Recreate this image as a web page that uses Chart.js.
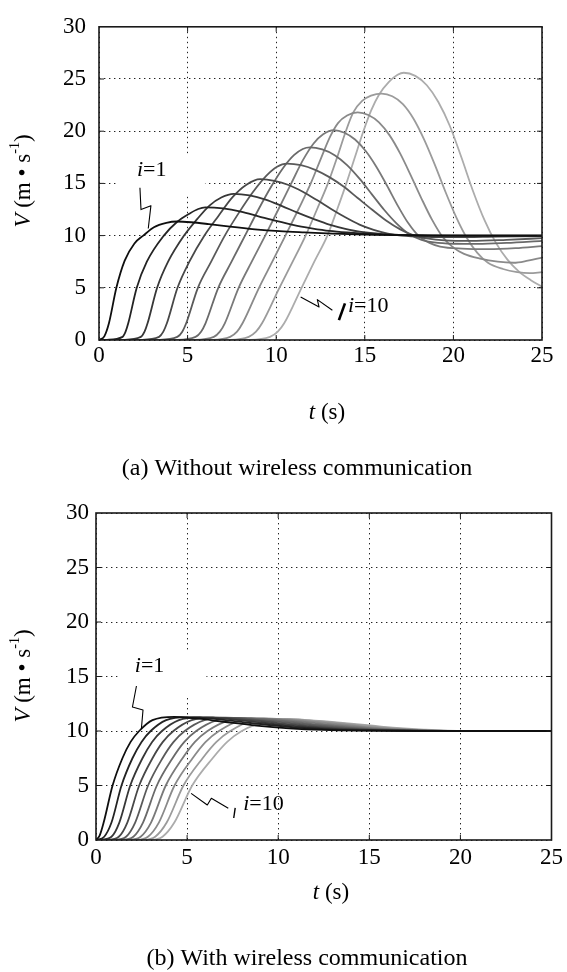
<!DOCTYPE html>
<html>
<head>
<meta charset="utf-8">
<script src="https://cdn.jsdelivr.net/npm/chart.js@4.4.0/dist/chart.umd.min.js"></script>
<style>
  html, body { margin: 0; padding: 0; background: #fff; }
  #wrap { position: relative; width: 567px; height: 972px; }
  canvas { position: absolute; left: 0; }
  #chartA { top: 0; }
  #chartB { top: 486px; }
</style>
</head>
<body>
<div id="wrap">
  <canvas id="chartA" width="567" height="486"></canvas>
  <canvas id="chartB" width="567" height="486"></canvas>
</div>
<script>
// tick labels
const xTicks = [0, 5, 10, 15, 20, 25];
const yTicks = [0, 5, 10, 15, 20, 25, 30];

// (a) without wireless communication, vehicle i = 1..10 (time s, speed m/s)
const aT1 = [0, 0.3, 0.56, 0.98, 1.45, 2.0, 2.5, 3.1, 3.8, 4.4, 5.2, 6.2, 7.4, 8.8, 10.2, 11.6, 13.2, 15.5, 18, 21, 25];
const aV1 = [0, 0.35, 1.6, 5, 7.6, 9.25, 10, 10.8, 11.22, 11.35, 11.28, 11.1, 10.85, 10.6, 10.42, 10.3, 10.18, 10.08, 10.02, 10, 10];
const aT2 = [0, 0.45, 1.33, 1.5, 1.65, 2.13, 2.7, 3.66, 4.4, 5.1, 5.6, 6.0, 7, 8, 9, 10, 11, 12, 13, 14, 15.5, 17.5, 20, 25];
const aV2 = [0, 0.02, 0.3, 0.8, 1.6, 5, 7.5, 10, 11.3, 12.1, 12.55, 12.7, 12.6, 12.3, 11.85, 11.4, 11.0, 10.7, 10.45, 10.3, 10.15, 10.05, 10, 10];
const aT3 = [0, 1.4, 2.36, 2.57, 2.74, 3.28, 3.9, 4.8, 5.5, 6.25, 6.9, 7.6, 8.5, 9.4, 10.3, 11.2, 12.1, 13.0, 13.9, 14.8, 16, 17.5, 19.5, 25];
const aV3 = [0, 0.02, 0.3, 0.8, 1.6, 5, 7.5, 10, 11.5, 12.9, 13.65, 14.0, 13.85, 13.45, 12.85, 12.2, 11.6, 11.05, 10.65, 10.35, 10.15, 10.05, 10, 10];
const aT4 = [0, 2.4, 3.39, 3.63, 3.83, 4.43, 5.1, 5.95, 6.75, 7.55, 8.3, 9.1, 9.9, 10.7, 11.5, 12.3, 13.1, 13.9, 14.7, 15.5, 16.3, 17.1, 18.5, 20, 22.5, 25];
const aV4 = [0, 0.02, 0.3, 0.8, 1.6, 5, 7.5, 10, 11.9, 13.7, 14.85, 15.4, 15.25, 14.85, 14.2, 13.4, 12.55, 11.75, 11.05, 10.55, 10.2, 10.0, 9.88, 9.85, 9.9, 9.95];
const aT5 = [0, 3.4, 4.42, 4.7, 4.92, 5.58, 6.33, 7.1, 7.9, 8.7, 9.45, 10.05, 10.6, 11.4, 12.2, 13.0, 13.8, 14.6, 15.4, 16.2, 17.0, 17.8, 18.6, 19.5, 21, 23, 25];
const aV5 = [0, 0.02, 0.3, 0.8, 1.6, 5, 7.5, 10, 12.2, 14.2, 15.75, 16.6, 16.9, 16.75, 16.3, 15.6, 14.7, 13.6, 12.5, 11.45, 10.6, 10.0, 9.7, 9.55, 9.5, 9.6, 9.75];
const aT6 = [0, 4.4, 5.45, 5.76, 6.01, 6.73, 7.48, 8.24, 9.0, 9.72, 10.4, 11.0, 11.5, 11.9, 12.6, 13.3, 14.0, 14.7, 15.4, 16.1, 16.8, 17.5, 18.2, 18.9, 20, 21.4, 23, 25];
const aV6 = [0, 0.02, 0.3, 0.8, 1.6, 5, 7.5, 10, 12.5, 14.7, 16.5, 17.7, 18.3, 18.45, 18.25, 17.7, 16.75, 15.45, 13.95, 12.45, 11.15, 10.15, 9.6, 9.35, 9.22, 9.2, 9.3, 9.5];
const aT7 = [0, 5.4, 6.48, 6.82, 7.1, 7.88, 8.62, 9.38, 10.12, 10.85, 11.5, 12.1, 12.65, 13.25, 13.85, 14.45, 15.05, 15.65, 16.25, 16.85, 17.45, 18.05, 18.65, 19.25, 20.5, 22, 23.5, 25];
const aV7 = [0, 0.02, 0.3, 0.8, 1.6, 5, 7.5, 10, 12.5, 15, 17.2, 18.8, 19.7, 20.1, 19.85, 19.2, 18.1, 16.6, 14.8, 12.9, 11.2, 9.95, 9.3, 8.95, 8.75, 8.7, 8.8, 9.0];
const aT8 = [0, 6.4, 7.4, 7.79, 8.1, 9.03, 9.78, 10.52, 11.25, 11.95, 12.55, 13.05, 13.5, 14.0, 14.6, 15.2, 15.8, 16.4, 17.0, 17.6, 18.2, 18.8, 19.4, 20.0, 20.6, 21.5, 22.5, 23.4, 24.2, 25];
const aV8 = [0, 0.02, 0.3, 0.8, 1.6, 5, 7.5, 10, 12.5, 15, 17.5, 19.5, 20.8, 21.5, 21.8, 21.55, 20.85, 19.6, 17.85, 15.75, 13.55, 11.5, 9.85, 8.85, 8.25, 7.8, 7.5, 7.4, 7.6, 7.9];
const aT9 = [0, 7.4, 8.45, 8.86, 9.2, 10.18, 10.93, 11.66, 12.3, 12.92, 13.44, 13.93, 14.35, 14.85, 15.35, 15.95, 16.55, 17.15, 17.75, 18.35, 18.95, 19.55, 20.15, 20.75, 21.35, 21.95, 22.8, 23.6, 24.3, 25];
const aV9 = [0, 0.02, 0.3, 0.8, 1.6, 5, 7.5, 10, 12.5, 15, 17.5, 20, 21.8, 22.9, 23.4, 23.6, 23.35, 22.6, 21.2, 19.2, 16.8, 14.2, 11.8, 9.8, 8.35, 7.4, 6.8, 6.5, 6.4, 6.5];
const aT10 = [0, 8.5, 9.65, 10.09, 10.45, 11.43, 12.15, 12.89, 13.44, 13.96, 14.44, 14.92, 15.36, 15.8, 16.35, 16.85, 17.2, 17.85, 18.5, 19.15, 19.8, 20.45, 21.1, 21.75, 22.4, 23.05, 23.7, 24.35, 25];
const aV10 = [0, 0.02, 0.3, 0.8, 1.6, 5, 7.5, 10, 12.5, 15, 17.5, 20, 22, 23.5, 24.7, 25.4, 25.6, 25.3, 24.4, 22.8, 20.5, 17.5, 14.3, 11.5, 9.3, 7.7, 6.55, 5.75, 5.1];

// (b) with wireless communication
const bT1 = [0, 0.2, 0.42, 0.91, 1.45, 1.9, 2.37, 3.1, 4.3, 5.5, 7.0, 8.8, 10.6, 12.5, 15, 18, 25];
const bV1 = [0, 0.4, 1.6, 5, 7.5, 9.0, 10, 11, 11.3, 11.15, 10.85, 10.5, 10.25, 10.1, 10.03, 10, 10];
const bT2 = [0, 0.45, 0.85, 1.4, 2.0, 2.5, 3.0, 3.85, 5.0, 6.2, 7.7, 9.5, 11.2, 13.0, 15.5, 18.5, 25];
const bV2 = [0, 0.3, 1.6, 5, 7.5, 9, 10, 11, 11.28, 11.15, 10.88, 10.55, 10.3, 10.13, 10.04, 10, 10];
const bT3 = [0, 0.25, 0.85, 1.28, 1.88, 2.55, 3.08, 3.62, 4.55, 5.7, 6.9, 8.4, 10.1, 11.8, 13.6, 15.8, 18.8, 25];
const bV3 = [0, 0.02, 0.3, 1.6, 5, 7.5, 9, 10, 11, 11.26, 11.15, 10.9, 10.58, 10.33, 10.15, 10.05, 10, 10];
const bT4 = [0, 0.65, 1.25, 1.72, 2.37, 3.1, 3.67, 4.25, 5.25, 6.4, 7.6, 9.1, 10.7, 12.3, 14.0, 16.2, 19, 25];
const bV4 = [0, 0.02, 0.3, 1.6, 5, 7.5, 9, 10, 11, 11.24, 11.13, 10.9, 10.6, 10.36, 10.17, 10.06, 10, 10];
const bT5 = [0, 1.05, 1.65, 2.15, 2.86, 3.65, 4.26, 4.87, 5.95, 7.1, 8.3, 9.7, 11.3, 12.8, 14.4, 16.5, 19.2, 25];
const bV5 = [0, 0.02, 0.3, 1.6, 5, 7.5, 9, 10, 11, 11.22, 11.12, 10.9, 10.62, 10.39, 10.2, 10.07, 10, 10];
const bT6 = [0, 1.45, 2.05, 2.58, 3.34, 4.2, 4.85, 5.5, 6.65, 7.8, 9.0, 10.4, 11.9, 13.3, 14.8, 16.8, 19.4, 25];
const bV6 = [0, 0.02, 0.3, 1.6, 5, 7.5, 9, 10, 11, 11.2, 11.1, 10.9, 10.64, 10.42, 10.22, 10.08, 10, 10];
const bT7 = [0, 1.85, 2.45, 3.02, 3.83, 4.75, 5.43, 6.12, 7.35, 8.5, 9.7, 11.0, 12.4, 13.8, 15.2, 17.1, 19.6, 25];
const bV7 = [0, 0.02, 0.3, 1.6, 5, 7.5, 9, 10, 11, 11.18, 11.08, 10.9, 10.66, 10.44, 10.24, 10.09, 10, 10];
const bT8 = [0, 2.25, 2.85, 3.45, 4.31, 5.3, 6.02, 6.75, 8.0, 9.2, 10.4, 11.6, 13.0, 14.3, 15.6, 17.4, 19.8, 25];
const bV8 = [0, 0.02, 0.3, 1.6, 5, 7.5, 9, 10, 11, 11.15, 11.06, 10.9, 10.68, 10.46, 10.26, 10.1, 10, 10];
const bT9 = [0, 2.65, 3.25, 3.88, 4.8, 5.85, 6.61, 7.37, 8.7, 9.9, 11.1, 12.2, 13.5, 14.8, 16.0, 17.7, 20.0, 25];
const bV9 = [0, 0.02, 0.3, 1.6, 5, 7.5, 9, 10, 11, 11.12, 11.04, 10.9, 10.7, 10.48, 10.28, 10.11, 10, 10];
const bT10 = [0, 3.05, 3.65, 4.3, 5.28, 6.4, 7.2, 8.0, 9.4, 10.6, 11.7, 12.8, 14.0, 15.2, 16.3, 18.0, 20.2, 25];
const bV10 = [0, 0.02, 0.3, 1.6, 5, 7.5, 9, 10, 10.9, 11.1, 11.0, 10.85, 10.68, 10.48, 10.3, 10.12, 10, 10];

const SERIF = '"Liberation Serif", "Times New Roman", serif';
const grays = [15, 35, 55, 72, 90, 106, 122, 138, 155, 172];

function series(ts, vs) {
  return ts.map((t, k) => ({x: t, y: vs[k]}));
}

function datasets(tList, vList) {
  return tList.map((ts, k) => ({
    data: series(ts, vList[k]),
    borderColor: `rgb(${grays[k]},${grays[k]},${grays[k]})`,
    borderWidth: 1.8,
    pointRadius: 0,
    fill: false,
    cubicInterpolationMode: "monotone"
  }));
}

// text made of parts with their own style
function rich(ctx, parts, x, y, align, size) {
  const fontOf = p => (p.it ? "italic " : "") + Math.round(size * (p.scale || 1)) + "px " + SERIF;
  const widths = parts.map(p => { ctx.font = fontOf(p); return ctx.measureText(p.s).width; });
  const total = widths.reduce((a, b) => a + b, 0);
  let cx = align === "center" ? x - total / 2 : x;
  parts.forEach((p, k) => {
    ctx.font = fontOf(p);
    ctx.fillText(p.s, cx, y + (p.dy || 0) * size);
    cx += widths[k];
  });
}

const decor = {
  id: "decor",
  beforeDatasetsDraw(chart, args, o) {
    const {ctx, scales: {x, y}} = chart;
    ctx.save();
    ctx.fillStyle = "#fff";
    const b = o.box;
    ctx.fillRect(x.getPixelForValue(b[0]), y.getPixelForValue(b[1]),
      x.getPixelForValue(b[2]) - x.getPixelForValue(b[0]), y.getPixelForValue(b[3]) - y.getPixelForValue(b[1]));
    ctx.restore();
  },
  afterDatasetsDraw(chart, args, o) {
    const {ctx, chartArea: a, scales: {x, y}} = chart;
    ctx.save();
    // frame and inward ticks
    ctx.strokeStyle = "#1a1a1a";
    ctx.lineWidth = 1.6;
    ctx.strokeRect(a.left, a.top, a.right - a.left, a.bottom - a.top);
    ctx.lineWidth = 1;
    ctx.beginPath();
    xTicks.slice(1, -1).forEach(v => {
      const px = x.getPixelForValue(v);
      ctx.moveTo(px, a.bottom); ctx.lineTo(px, a.bottom - 5);
      ctx.moveTo(px, a.top); ctx.lineTo(px, a.top + 5);
    });
    yTicks.slice(1, -1).forEach(v => {
      const py = y.getPixelForValue(v);
      ctx.moveTo(a.left, py); ctx.lineTo(a.left + 5, py);
      ctx.moveTo(a.right, py); ctx.lineTo(a.right - 5, py);
    });
    ctx.stroke();

    // leader lines
    ctx.strokeStyle = "#000";
    ctx.lineWidth = 1.1;
    ctx.lineJoin = "round";
    [o.lead1, o.lead10].forEach(pts => {
      ctx.beginPath();
      pts.forEach((p, k) => {
        const px = x.getPixelForValue(p[0]), py = y.getPixelForValue(p[1]);
        if (k === 0) ctx.moveTo(px, py); else ctx.lineTo(px, py);
      });
      ctx.stroke();
    });
    ctx.lineWidth = o.stub[4];
    ctx.beginPath();
    ctx.moveTo(x.getPixelForValue(o.stub[0]), y.getPixelForValue(o.stub[1]));
    ctx.lineTo(x.getPixelForValue(o.stub[2]), y.getPixelForValue(o.stub[3]));
    ctx.stroke();

    // labels
    ctx.fillStyle = "#000";
    ctx.textBaseline = "alphabetic";
    rich(ctx, [{s: "i", it: true}, {s: "=1"}], x.getPixelForValue(o.label1[0]), y.getPixelForValue(o.label1[1]), "left", 22);
    rich(ctx, [{s: "i", it: true}, {s: "=10"}], x.getPixelForValue(o.label10[0]), y.getPixelForValue(o.label10[1]), "left", 22);

    // axis titles and caption
    rich(ctx, [{s: "t", it: true}, {s: " (s)"}], o.xTitle[0], o.xTitle[1], "center", 23);
    rich(ctx, [{s: o.caption}], o.capPos[0], o.capPos[1], "center", 24);
    ctx.translate(o.yTitle[0], o.yTitle[1]);
    ctx.rotate(-Math.PI / 2);
    ctx.textBaseline = "middle";
    rich(ctx, [{s: "V", it: true}, {s: " (m \u2022 s"}, {s: "-1", scale: 0.62, dy: -0.38}, {s: ")"}], 0, 0, "center", 23);
    ctx.restore();
  }
};

function makeChart(id, tList, vList, g, ann) {
  return new Chart(document.getElementById(id), {
    type: "line",
    data: {datasets: datasets(tList, vList)},
    plugins: [decor],
    options: {
      responsive: false,
      animation: false,
      events: [],
      layout: {padding: {left: 0, top: g.top, right: g.right, bottom: 0}},
      plugins: {legend: {display: false}, tooltip: {enabled: false}, decor: ann},
      scales: {
        x: {
          type: "linear", min: 0, max: 25,
          afterBuildTicks: s => { s.ticks = xTicks.map(v => ({value: v})); },
          afterFit: s => { s.height = g.xh; },
          ticks: {font: {size: 23, family: SERIF}, color: "#000", padding: g.xpad, maxRotation: 0, autoSkip: false},
          grid: {color: "#222", lineWidth: 1, drawTicks: false},
          border: {display: false, dash: [1.4, 3.6]}
        },
        y: {
          type: "linear", min: 0, max: 30,
          afterBuildTicks: s => { s.ticks = yTicks.map(v => ({value: v})); },
          afterFit: s => { s.width = g.yw; },
          ticks: {font: {size: 23, family: SERIF}, color: "#000", padding: g.ypad, autoSkip: false},
          grid: {color: "#222", lineWidth: 1, drawTicks: false},
          border: {display: false, dash: [1.4, 3.6]}
        }
      }
    }
  });
}

makeChart("chartA",
  [aT1, aT2, aT3, aT4, aT5, aT6, aT7, aT8, aT9, aT10],
  [aV1, aV2, aV3, aV4, aV5, aV6, aV7, aV8, aV9, aV10],
  {top: 24, right: 25, xh: 146, yw: 99, xpad: 2, ypad: 13},
  {
    box: [1.07, 17.85, 5.98, 13.77],
    label1: [2.14, 15.67],
    lead1: [[2.31, 14.58], [2.37, 12.49], [2.93, 12.87], [2.78, 10.68]],
    label10: [14.05, 2.66],
    lead10: [[11.38, 4.11], [12.42, 3.16], [12.32, 3.87], [13.17, 2.85]],
    stub: [13.88, 3.51, 13.54, 1.9, 2.6],
    xTitle: [327, 419],
    yTitle: [24, 181],
    caption: "(a) Without wireless communication",
    capPos: [297, 475]
  });

makeChart("chartB",
  [bT1, bT2, bT3, bT4, bT5, bT6, bT7, bT8, bT9, bT10],
  [bV1, bV2, bV3, bV4, bV5, bV6, bV7, bV8, bV9, bV10],
  {top: 27, right: 13, xh: 132, yw: 96, xpad: 4, ypad: 7},
  {
    box: [1.2, 17.25, 6.06, 13.3],
    label1: [2.13, 15.41],
    lead1: [[2.22, 14.13], [2.0, 12.2], [2.58, 11.93], [2.49, 10.18]],
    label10: [8.08, 2.75],
    lead10: [[5.22, 4.28], [6.11, 3.21], [6.33, 3.83], [7.26, 2.91]],
    stub: [7.64, 2.94, 7.56, 2.02, 1.4],
    xTitle: [331, 413],
    yTitle: [24, 190],
    caption: "(b) With wireless communication",
    capPos: [307, 479]
  });
</script>
</body>
</html>
